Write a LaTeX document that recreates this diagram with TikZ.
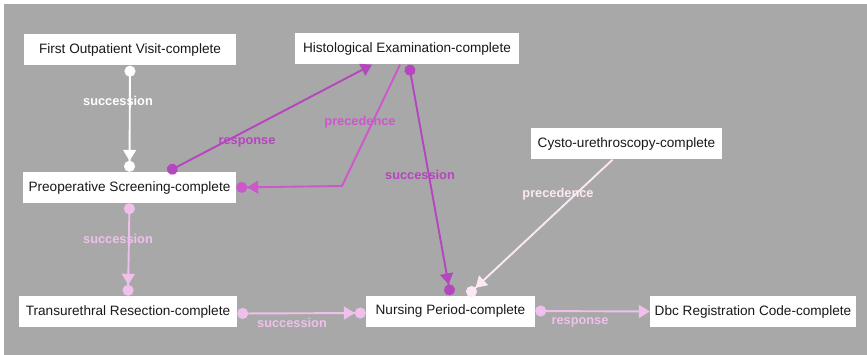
\documentclass[tikz,border=0pt]{standalone}
\usepackage{fontspec}
\setmainfont{Liberation Sans}
\usetikzlibrary{arrows.meta}
\definecolor{bggray}{HTML}{A8A8A8}
\definecolor{plum}{HTML}{B446BE}
\definecolor{orchidc}{HTML}{CC58CC}
\definecolor{pinkc}{HTML}{F0C0EC}
\definecolor{blushc}{HTML}{FCE8F4}
\tikzset{
  taskbox/.style ={rectangle, fill=white, inner sep=0pt, minimum height=31pt, font=\fontsize{13.6}{15}\selectfont, text=black!90},
  lbl/.style     ={font=\bfseries\fontsize{12.8}{14}\selectfont, inner sep=1pt},
  succflow/.style={{Circle[length=11pt]}-{Triangle[length=11pt,width=13pt] Circle[length=11pt]}, line width=1.9pt},
  respflow/.style={{Circle[length=11pt]}-{Triangle[length=11pt,width=13pt]}, line width=1.9pt},
  precflow/.style={-{Triangle[length=11pt,width=13pt] Circle[length=11pt]}, line width=1.9pt},
}
\begin{document}
\begin{tikzpicture}[x=1pt,y=-1pt]
% --- canvas ---
\useasboundingbox (0,0) rectangle (867,355);
\fill[white] (0,0) rectangle (867,355);
\fill[bggray] (4,4) rectangle (867,355);
% --- activities ---
\node[taskbox, minimum width=212pt] (first)   at (130,50)    {First Outpatient Visit-complete};
\node[taskbox, minimum width=224pt] (hist)    at (407,49)    {Histological Examination-complete};
\node[taskbox, minimum width=213pt] (preop)   at (129.5,187.5) {Preoperative Screening-complete};
\node[taskbox, minimum width=191pt] (cysto)   at (626.5,144) {Cysto-urethroscopy-complete};
\node[taskbox, minimum width=218pt] (trans)   at (128,311.5) {Transurethral Resection-complete};
\node[taskbox, minimum width=169pt] (nursing) at (450.5,311)  {Nursing Period-complete};
\node[taskbox, minimum width=206pt] (dbc)     at (753,311.5) {Dbc Registration Code-complete};
% --- constraints ---
\draw[succflow, white]   (first.south) -- (preop.north);
\draw[respflow, plum]    ([xshift=38pt]preop.north) -- ([xshift=-35pt]hist.south);
\draw[precflow, orchidc] ([xshift=-7pt]hist.south) -- (342,186) -- (preop.east);
\draw[succflow, plum]    ([xshift=2pt]hist.south) -- (nursing.north);
\draw[succflow, pinkc]   (preop.south) -- (trans.north);
\draw[succflow, pinkc]   ([yshift=-2pt]trans.east) -- ([yshift=-2pt]nursing.west);
\draw[precflow, blushc]  ([xshift=-14pt]cysto.south) -- ([xshift=17pt]nursing.north);
\draw[respflow, pinkc]   (nursing.east) -- (dbc.west);
% --- labels ---
\node[lbl, text=white]   (l1) at (118,101) {succession};
\node[lbl, text=plum]    (l2) at (247,142) {response};
\node[lbl, text=orchidc] (l3) at (360,122) {precedence};
\node[lbl, text=plum]    (l4) at (420,175) {succession};
\node[lbl, text=blushc]  (l5) at (558,194) {precedence};
\node[lbl, text=pinkc]   (l6) at (118,239) {succession};
\node[lbl, text=pinkc]   (l7) at (292,323) {succession};
\node[lbl, text=pinkc]   (l8) at (580,322) {response};
\end{tikzpicture}
\end{document}
